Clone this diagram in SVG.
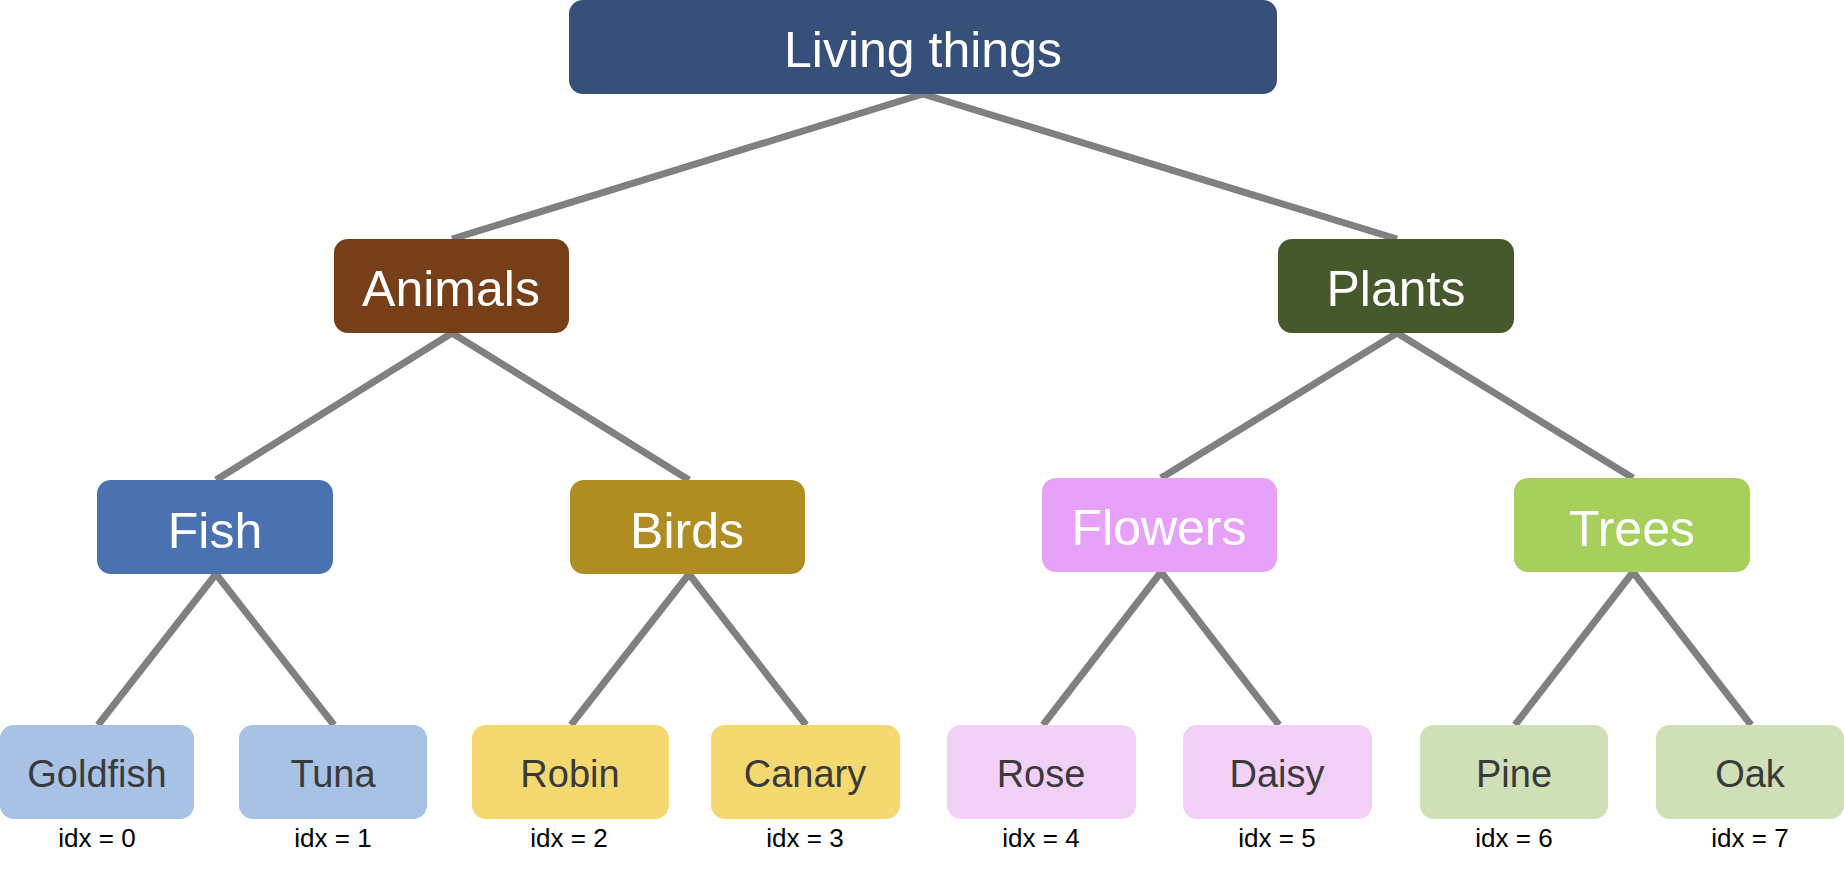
<svg xmlns="http://www.w3.org/2000/svg" width="1844" height="875" viewBox="0 0 1844 875">
  <style>
    .edge { stroke: #808080; stroke-width: 7; stroke-linecap: butt; fill: none; }
    .box { stroke: none; }
    .big { font-family: "Liberation Sans", Arial, Helvetica, sans-serif; font-size: 50px; fill: #ffffff; text-anchor: middle; }
    .leaf { font-family: "Liberation Sans", Arial, Helvetica, sans-serif; font-size: 38px; fill: #3a3a3a; text-anchor: middle; }
    .idx { font-family: "Liberation Sans", Arial, Helvetica, sans-serif; font-size: 26px; fill: #000000; text-anchor: middle; }
  </style>
  <rect x="0" y="0" width="1844" height="875" fill="#ffffff"/>
  <g id="connectors">
    <line class="edge" x1="923" y1="94" x2="452" y2="239"/>
    <line class="edge" x1="923" y1="94" x2="1397" y2="239"/>
    <line class="edge" x1="452" y1="333" x2="216" y2="480"/>
    <line class="edge" x1="452" y1="333" x2="689" y2="480"/>
    <line class="edge" x1="1397" y1="333" x2="1161" y2="478"/>
    <line class="edge" x1="1397" y1="333" x2="1633" y2="478"/>
    <line class="edge" x1="216" y1="574" x2="98" y2="725"/>
    <line class="edge" x1="216" y1="574" x2="334" y2="725"/>
    <line class="edge" x1="689" y1="574" x2="571" y2="725"/>
    <line class="edge" x1="689" y1="574" x2="806" y2="725"/>
    <line class="edge" x1="1161" y1="572" x2="1043" y2="725"/>
    <line class="edge" x1="1161" y1="572" x2="1279" y2="725"/>
    <line class="edge" x1="1633" y1="572" x2="1515" y2="725"/>
    <line class="edge" x1="1633" y1="572" x2="1751" y2="725"/>
  </g>
  <g id="living-things">
    <rect class="box" x="569" y="0" width="708" height="94" rx="14" fill="#375079"/>
    <text class="big" x="923" y="67">Living things</text>
  </g>
  <g id="animals">
    <rect class="box" x="334" y="239" width="235" height="94" rx="14" fill="#763f18"/>
    <text class="big" x="451" y="306">Animals</text>
  </g>
  <g id="plants">
    <rect class="box" x="1278" y="239" width="236" height="94" rx="14" fill="#46592c"/>
    <text class="big" x="1396" y="306">Plants</text>
  </g>
  <g id="fish">
    <rect class="box" x="97" y="480" width="236" height="94" rx="14" fill="#4a72b0"/>
    <text class="big" x="215" y="548">Fish</text>
  </g>
  <g id="birds">
    <rect class="box" x="570" y="480" width="235" height="94" rx="14" fill="#b08d22"/>
    <text class="big" x="687" y="548">Birds</text>
  </g>
  <g id="flowers">
    <rect class="box" x="1042" y="478" width="235" height="94" rx="14" fill="#e8a1f8"/>
    <text class="big" x="1159" y="545">Flowers</text>
  </g>
  <g id="trees">
    <rect class="box" x="1514" y="478" width="236" height="94" rx="14" fill="#a6cf5b"/>
    <text class="big" x="1632" y="546">Trees</text>
  </g>
  <g id="goldfish">
    <rect class="box" x="0" y="725" width="194" height="94" rx="14" fill="#a8c2e5"/>
    <text class="leaf" x="97" y="787">Goldfish</text>
    <text class="idx" x="97" y="847">idx = 0</text>
  </g>
  <g id="tuna">
    <rect class="box" x="239" y="725" width="188" height="94" rx="14" fill="#a8c2e5"/>
    <text class="leaf" x="333" y="787">Tuna</text>
    <text class="idx" x="333" y="847">idx = 1</text>
  </g>
  <g id="robin">
    <rect class="box" x="472" y="725" width="197" height="94" rx="14" fill="#f4d870"/>
    <text class="leaf" x="570" y="787">Robin</text>
    <text class="idx" x="569" y="847">idx = 2</text>
  </g>
  <g id="canary">
    <rect class="box" x="711" y="725" width="189" height="94" rx="14" fill="#f4d870"/>
    <text class="leaf" x="805" y="787">Canary</text>
    <text class="idx" x="805" y="847">idx = 3</text>
  </g>
  <g id="rose">
    <rect class="box" x="947" y="725" width="189" height="94" rx="14" fill="#f2d0f7"/>
    <text class="leaf" x="1041" y="787">Rose</text>
    <text class="idx" x="1041" y="847">idx = 4</text>
  </g>
  <g id="daisy">
    <rect class="box" x="1183" y="725" width="189" height="94" rx="14" fill="#f2d0f7"/>
    <text class="leaf" x="1277" y="787">Daisy</text>
    <text class="idx" x="1277" y="847">idx = 5</text>
  </g>
  <g id="pine">
    <rect class="box" x="1420" y="725" width="188" height="94" rx="14" fill="#cfe0b6"/>
    <text class="leaf" x="1514" y="787">Pine</text>
    <text class="idx" x="1514" y="847">idx = 6</text>
  </g>
  <g id="oak">
    <rect class="box" x="1656" y="725" width="188" height="94" rx="14" fill="#cfe0b6"/>
    <text class="leaf" x="1750" y="787">Oak</text>
    <text class="idx" x="1750" y="847">idx = 7</text>
  </g>
</svg>
